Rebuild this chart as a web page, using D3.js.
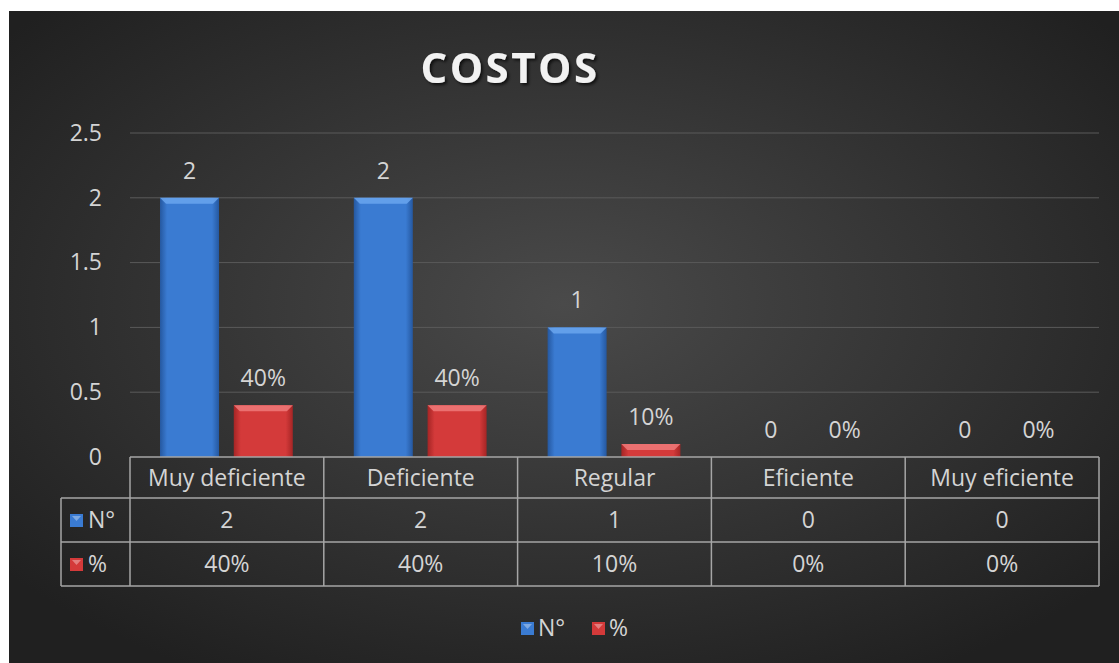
<!DOCTYPE html>
<html><head><meta charset="utf-8">
<script src="https://cdn.jsdelivr.net/npm/d3@7/dist/d3.min.js"></script>
<style>body{margin:0;background:#fff;}svg{display:block;}</style>
</head><body>
<svg id="c" width="1119" height="663"></svg>
<script>
const categories = ["Muy deficiente","Deficiente","Regular","Eficiente","Muy eficiente"];
const seriesNames = ["N°","%"];
const countValues = [2,2,1,0,0];
const pctValues = [0.4,0.4,0.1,0,0];
const pctLabels = ["40%","40%","10%","0%","0%"];
const yTicks = [0,0.5,1,1.5,2,2.5];

const svg = d3.select("#c");
const W=1119,H=663;
const font = "'Open Sans', 'Noto Sans', sans-serif";
const fs = 23;
const txt = "#d4d4d4";
const defs = svg.append("defs");
const bg = defs.append("radialGradient").attr("id","bg").attr("cx","50%").attr("cy","45%").attr("r","65%");
bg.append("stop").attr("offset","0%").attr("stop-color","#4a4a4a");
bg.append("stop").attr("offset","100%").attr("stop-color","#202020");
function barGrad(id,edge,mid){
  const g=defs.append("linearGradient").attr("id",id).attr("x1","0").attr("x2","1").attr("y1","0").attr("y2","0");
  g.append("stop").attr("offset","0%").attr("stop-color",edge);
  g.append("stop").attr("offset","12%").attr("stop-color",mid);
  g.append("stop").attr("offset","88%").attr("stop-color",mid);
  g.append("stop").attr("offset","100%").attr("stop-color",edge);
}
barGrad("gb","#2558a0","#3a7bd2");
barGrad("gr","#a52525","#d43a3a");
const sh = defs.append("filter").attr("id","ts").attr("x","-10%").attr("y","-10%").attr("width","130%").attr("height","140%");
sh.append("feDropShadow").attr("dx",2).attr("dy",2).attr("stdDeviation",1.5).attr("flood-color","#000").attr("flood-opacity",0.7);

svg.append("rect").attr("x",9).attr("y",11).attr("width",W-9).attr("height",H-11).attr("fill","url(#bg)");

const x0 = d3.scaleBand().domain(categories).range([130,1099]).paddingInner(0).paddingOuter(0);
const x1 = d3.scaleBand().domain(seriesNames).range([30,x0.bandwidth()-31]).paddingInner(0.2);
const y = d3.scaleLinear().domain([0,2.5]).range([457,133]);

svg.append("text").attr("x",510).attr("y",83).attr("text-anchor","middle").attr("fill","#f2f2f2")
  .attr("font-family",font).attr("font-weight","bold").attr("font-size",42).attr("letter-spacing",2.5)
  .attr("filter","url(#ts)").text("COSTOS");

// grid
svg.append("g").selectAll("line").data(yTicks.filter(t=>t>0)).join("line")
  .attr("x1",130).attr("x2",1099).attr("y1",d=>y(d)).attr("y2",d=>y(d))
  .attr("stroke","#5a5a5a").attr("stroke-width",1);

const yAxis = svg.append("g").attr("transform","translate(130,0)")
  .call(d3.axisLeft(y).tickValues(yTicks).tickSize(0).tickPadding(28).tickFormat(d3.format("")));
yAxis.select(".domain").remove();
yAxis.selectAll("text").attr("fill",txt).attr("font-family",font).attr("font-size",fs);

const series = [
  {name:"N°", vals:countValues, labels:countValues.map(String), grad:"url(#gb)", top:"#6aa6ee", marker:"#3a7bd2"},
  {name:"%", vals:pctValues, labels:pctLabels, grad:"url(#gr)", top:"#ee7a7a", marker:"#d43a3a"}
];
series.forEach(s=>{
  const g = svg.append("g");
  categories.forEach((c,i)=>{
    const bx = x0(c)+x1(s.name), bw = x1.bandwidth(), v=s.vals[i];
    if(v>0){
      g.append("rect").attr("x",bx).attr("y",y(v)).attr("width",bw).attr("height",y(0)-y(v)).attr("fill",s.grad);
      const b=6;
      g.append("path").attr("d",`M${bx},${y(v)}L${bx+bw},${y(v)}L${bx+bw-b},${y(v)+b}L${bx+b},${y(v)+b}Z`).attr("fill",s.top).attr("opacity",0.85);
    }
    g.append("text").attr("x",bx+bw/2).attr("y",y(v)-19).attr("text-anchor","middle")
      .attr("fill",txt).attr("font-family",font).attr("font-size",fs).text(s.labels[i]);
  });
});

// data table
const rowY=[457,498,542,586];
const tg = svg.append("g").attr("stroke","#a6a6a6").attr("stroke-width",1.5).attr("fill","none");
tg.append("line").attr("x1",130).attr("x2",1099).attr("y1",rowY[0]).attr("y2",rowY[0]);
tg.append("line").attr("x1",61).attr("x2",1099).attr("y1",rowY[1]).attr("y2",rowY[1]);
tg.append("line").attr("x1",61).attr("x2",1099).attr("y1",rowY[2]).attr("y2",rowY[2]);
tg.append("line").attr("x1",61).attr("x2",1099).attr("y1",rowY[3]).attr("y2",rowY[3]);
tg.append("line").attr("x1",61).attr("x2",61).attr("y1",rowY[1]).attr("y2",rowY[3]);
const bounds = categories.map(c=>x0(c)).concat([x0.range()[1]]);
tg.selectAll("line.v").data(bounds).join("line").attr("class","v")
  .attr("x1",d=>d).attr("x2",d=>d).attr("y1",rowY[0]).attr("y2",rowY[3]);

const tt = svg.append("g").attr("fill",txt).attr("font-family",font).attr("font-size",fs).attr("text-anchor","middle");
categories.forEach((c,i)=>{
  const cx = x0(c)+x0.bandwidth()/2;
  tt.append("text").attr("x",cx).attr("y",(rowY[0]+rowY[1])/2+8).text(c);
  tt.append("text").attr("x",cx).attr("y",(rowY[1]+rowY[2])/2+8).text(series[0].labels[i]);
  tt.append("text").attr("x",cx).attr("y",(rowY[2]+rowY[3])/2+8).text(series[1].labels[i]);
});
function marker(g,x,yc,col){
  g.append("rect").attr("x",x).attr("y",yc-6).attr("width",13).attr("height",13).attr("fill",col);
  g.append("path").attr("d",`M${x+2},${yc-4}L${x+11},${yc-4}L${x+6.5},${yc+1}Z`).attr("fill","#fff").attr("opacity",0.35);
}
series.forEach((s,k)=>{
  const yc=(rowY[k+1]+rowY[k+2])/2;
  marker(svg,70,yc,s.marker);
  svg.append("text").attr("x",88).attr("y",yc+8).attr("fill",txt).attr("font-family",font).attr("font-size",fs).text(s.name);
});
// legend
const lg = svg.append("g");
[[521,"N°"],[592,"%"]].forEach(([lx,n],k)=>{
  marker(lg,lx,628,series[k].marker);
  lg.append("text").attr("x",lx+17).attr("y",636).attr("fill",txt).attr("font-family",font).attr("font-size",fs).text(n);
});
</script>
</body></html>
